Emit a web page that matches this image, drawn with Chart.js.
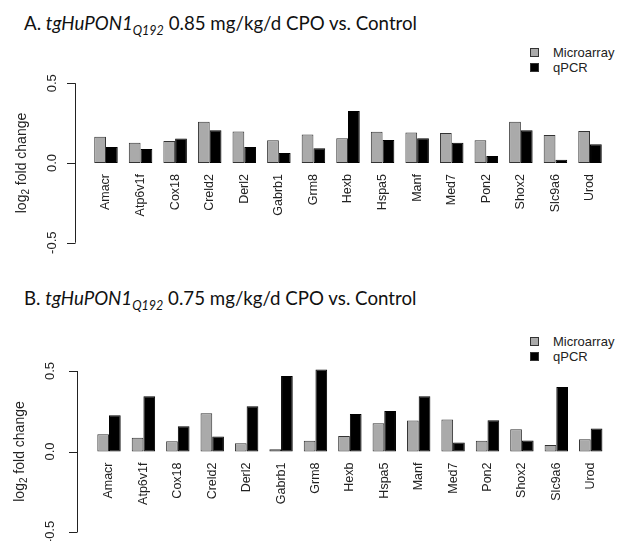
<!DOCTYPE html>
<html lang="en">
<head>
<meta charset="UTF-8">
<title>log2 fold change</title>
<script src="https://cdn.jsdelivr.net/npm/chart.js"></script>
<style>
  body { margin: 0; background: #fff; width: 617px; height: 541px; position: relative; overflow: hidden; }
  canvas { position: absolute; left: 0; }
  .title { position: absolute; left: 24px; font-family: Lato, "Open Sans", sans-serif; font-size: 18.7px; color: #111; white-space: nowrap; line-height: 18px; }
  .title sub { font-size: 12.5px; vertical-align: -5px; line-height: 0; }
  .legend { position: absolute; left: 530px; font-family: "Liberation Sans", Arial, sans-serif; font-size: 13px; color: #222; line-height: 15px; }
  .legend span.box { display: inline-block; width: 7px; height: 7px; border: 1px solid #333; margin-right: 14px; vertical-align: 0px; }
</style>
</head>
<body>
<div class="title" style="top:14px">A. <i>tgHuPON1<sub>Q192</sub></i> 0.85 mg/kg/d CPO vs. Control</div>
<div class="legend" style="top:45px">
  <div><span class="box" style="background:#aaaaaa"></span>Microarray</div>
  <div><span class="box" style="background:#000"></span>qPCR</div>
</div>
<div class="title" style="top:289px">B. <i>tgHuPON1<sub>Q192</sub></i> 0.75 mg/kg/d CPO vs. Control</div>
<div class="legend" style="top:334px">
  <div><span class="box" style="background:#aaaaaa"></span>Microarray</div>
  <div><span class="box" style="background:#000"></span>qPCR</div>
</div>

<canvas id="chartA" width="617" height="285" style="top:0"></canvas>
<canvas id="chartB" width="617" height="256" style="top:285px"></canvas>

<script>
const genes = ['Amacr', 'Atp6v1f', 'Cox18', 'Creld2', 'Derl2', 'Gabrb1', 'Grm8', 'Hexb',
  'Hspa5', 'Manf', 'Med7', 'Pon2', 'Shox2', 'Slc9a6', 'Urod'];

// panel A: 0.85 mg/kg/d
const microarrayA = [0.165, 0.127, 0.138, 0.258, 0.198, 0.142, 0.179, 0.156, 0.196, 0.192, 0.188, 0.142, 0.258, 0.175, 0.200];
const qpcrA = [0.100, 0.088, 0.154, 0.206, 0.100, 0.062, 0.092, 0.327, 0.144, 0.156, 0.127, 0.044, 0.206, 0.021, 0.117];

// panel B: 0.75 mg/kg/d
const microarrayB = [0.107, 0.085, 0.064, 0.238, 0.052, 0.014, 0.066, 0.097, 0.176, 0.192, 0.198, 0.066, 0.138, 0.041, 0.076];
const qpcrB = [0.225, 0.343, 0.157, 0.093, 0.281, 0.469, 0.510, 0.233, 0.252, 0.343, 0.056, 0.194, 0.068, 0.400, 0.143];

const yTicks = [-0.5, 0, 0.5];

// R style y axis: line only over the tick range, rotated tick labels
const rAxis = {
  id: 'rAxis',
  afterDraw(chart, args, opts) {
    const ctx = chart.ctx;
    const y = chart.scales.y;
    const x0 = opts.x;
    ctx.save();
    ctx.strokeStyle = '#222';
    ctx.lineWidth = 1;
    ctx.beginPath();
    ctx.moveTo(x0 + 0.5, y.getPixelForValue(yTicks[0]));
    ctx.lineTo(x0 + 0.5, y.getPixelForValue(yTicks[yTicks.length - 1]));
    yTicks.forEach(v => {
      const py = Math.round(y.getPixelForValue(v)) + 0.5;
      ctx.moveTo(x0 + 0.5, py);
      ctx.lineTo(x0 - 8, py);
    });
    ctx.stroke();

    ctx.fillStyle = '#222';
    ctx.font = '13px "Liberation Sans", Arial, sans-serif';
    ctx.textAlign = 'center';
    ctx.textBaseline = 'middle';
    yTicks.forEach(v => {
      ctx.save();
      ctx.translate(opts.labelX, y.getPixelForValue(v));
      ctx.rotate(-Math.PI / 2);
      ctx.fillText(v.toFixed(1), 0, 0);
      ctx.restore();
    });

    // axis title with subscript
    const big = '14px "Liberation Sans", Arial, sans-serif';
    const small = '10px "Liberation Sans", Arial, sans-serif';
    ctx.save();
    ctx.translate(opts.titleX, y.getPixelForValue(0));
    ctx.rotate(-Math.PI / 2);
    const a = 'log', b = '2', c = ' fold change';
    ctx.font = big;
    const wa = ctx.measureText(a).width, wc = ctx.measureText(c).width;
    ctx.font = small;
    const wb = ctx.measureText(b).width;
    const sx = -(wa + wb + wc) / 2;
    ctx.textAlign = 'left';
    ctx.font = big;
    ctx.fillText(a, sx, 0);
    ctx.font = small;
    ctx.fillText(b, sx + wa, 4);
    ctx.font = big;
    ctx.fillText(c, sx + wa + wb, 0);
    ctx.restore();
    ctx.restore();
  }
};

function makeChart(id, micro, qpcr, pad, axisOpts) {
  return new Chart(document.getElementById(id), {
    type: 'bar',
    data: {
      labels: genes,
      datasets: [
        { label: 'Microarray', data: micro, backgroundColor: '#aaaaaa', borderColor: '#333', borderWidth: 1, borderSkipped: false },
        { label: 'qPCR', data: qpcr, backgroundColor: '#000', borderColor: '#000', borderWidth: 1, borderSkipped: false }
      ]
    },
    options: {
      responsive: false,
      animation: false,
      devicePixelRatio: 1,
      clip: false,
      categoryPercentage: 0.68,
      barPercentage: 1,
      layout: { padding: pad },
      plugins: {
        legend: { display: false },
        tooltip: { enabled: false },
        rAxis: axisOpts
      },
      scales: {
        x: {
          position: { y: 0 },
          grid: { display: false, drawTicks: false },
          border: { display: false },
          ticks: {
            minRotation: 90, maxRotation: 90, autoSkip: false, padding: 11,
            color: '#222',
            font: { family: '"Liberation Sans", Arial, sans-serif', size: 12.5 }
          }
        },
        y: { display: false, min: -0.5, max: 0.5 }
      }
    },
    plugins: [rAxis]
  });
}

makeChart('chartA', microarrayA, qpcrA, { left: 88.7, right: 9.7, top: 83.3, bottom: 42.3 }, { x: 75, labelX: 52, titleX: 22 });
makeChart('chartB', microarrayB, qpcrB, { left: 91.8, right: 8.2, top: 86, bottom: 9 }, { x: 77, labelX: 50, titleX: 20 });
</script>
</body>
</html>
